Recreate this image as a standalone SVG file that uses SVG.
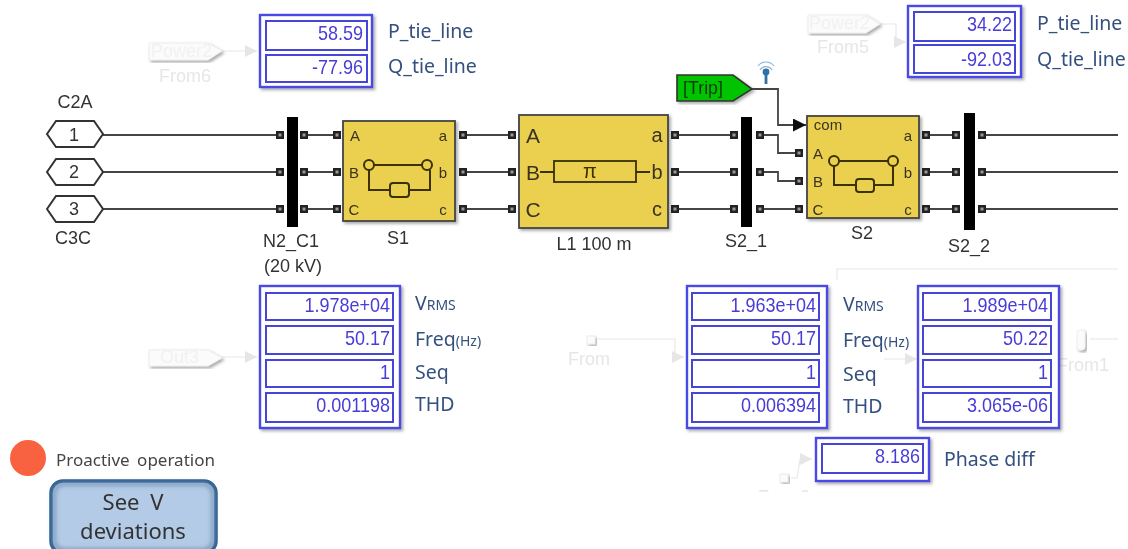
<svg xmlns="http://www.w3.org/2000/svg" width="1128" height="549" viewBox="0 0 1128 549">
<defs>
<filter id="soft" x="-2%" y="-2%" width="104%" height="104%"><feGaussianBlur stdDeviation="0.6"/></filter>
<filter id="sh" x="-10%" y="-10%" width="125%" height="125%"><feDropShadow dx="2" dy="2" stdDeviation="1.5" flood-color="#666" flood-opacity="0.55"/></filter>
<filter id="inner" x="-10%" y="-10%" width="120%" height="120%"><feGaussianBlur stdDeviation="2"/></filter>
<marker id="arr" viewBox="0 0 10 10" refX="10" refY="5" markerWidth="13" markerHeight="13" markerUnits="userSpaceOnUse" orient="auto"><path d="M0 0L10 5L0 10Z" fill="#111"/></marker>
<marker id="ghostarr" viewBox="0 0 10 10" refX="10" refY="5" markerWidth="12" markerHeight="12" markerUnits="userSpaceOnUse" orient="auto"><path d="M0 0L10 5L0 10Z" fill="#e6e6e6"/></marker>
<g id="port"><rect x="-4" y="-4" width="8" height="8" fill="#222"/><rect x="-1.5" y="-1.5" width="3" height="3" fill="#999"/></g>
</defs>
<style>
text{font-family:"Liberation Sans",Arial,sans-serif}
.wire{fill:none;stroke:#444;stroke-width:1.8}
.ghostline{fill:none;stroke:#e8e8e8;stroke-width:1.2}
.ghostblock{fill:#fbfbfb;stroke:#eee;stroke-width:1;filter:url(#sh)}
.ghost{fill:#e6e6e6;font-size:18px;text-anchor:middle}
.ghostin{fill:#f1f1f1;font-size:18px}
.name{fill:#333;font-size:18px;text-anchor:middle}
.yellow{fill:#ebd04f;stroke:#444;stroke-width:1.8;filter:url(#sh)}
.icon{fill:none;stroke:#3a3000;stroke-width:2}
.iconf{fill:#ebd04f;stroke:#3a3000;stroke-width:2}
.pl{fill:#3a3320;font-size:15px;text-anchor:middle}
.pll{fill:#3a3320;font-size:21px;text-anchor:middle}
.bus{fill:#000}
.disp{fill:#fff;stroke:#4a4ae6;stroke-width:2.4;filter:url(#sh)}
.cell{fill:#fff;stroke:#4444d8;stroke-width:2}
.val{fill:#4a3cd8;font-size:20px;text-anchor:end;transform-box:fill-box;transform-origin:100% 50%;transform:scaleX(.9)}
.lab{fill:#34507e;font-size:19.5px;font-family:"Noto Sans","Open Sans",sans-serif}
.sm{font-size:14px}
</style>
<g filter="url(#soft)">
<g id="connectors">
<path class="wire" d="M103 135H280M304 135H337M463 135H512M675 135H734M760 135H778V153H799M925 135H956M982 135H1118"/>
<path class="wire" d="M103 172H280M304 172H337M463 172H512M675 172H734M760 172H778V181H799M925 172H956M982 172H1118"/>
<path class="wire" d="M103 209H280M304 209H337M463 209H512M675 209H734M760 209H799M925 209H956M982 209H1118"/>
<path class="wire" d="M752 89H778V125H806" marker-end="url(#arr)"/>
<path class="ghostline" d="M222 51H257" marker-end="url(#ghostarr)"/>
<path class="ghostline" d="M880 24H896V42H906" marker-end="url(#ghostarr)"/>
<path class="ghostline" d="M222 357H257" marker-end="url(#ghostarr)"/>
<path class="ghostline" d="M597 339H675V357H684" marker-end="url(#ghostarr)"/>
<path class="ghostline" d="M884 359H917" marker-end="url(#ghostarr)"/>
<path class="ghostline" d="M1090 339H1118"/>
<path class="ghostline" d="M791 478H797L800 459H812" marker-end="url(#ghostarr)"/>
<path class="ghostline" d="M837 280V269H1118"/>
</g>
<g id="port1"><polygon points="47,134 56,121 94,121 103,134 94,147 56,147" fill="#fff" stroke="#333" stroke-width="2"/><text x="74" y="141" class="name">1</text><text x="75" y="108" class="name">C2A</text></g>
<g id="port2"><polygon points="47,172 56,159 94,159 103,172 94,185 56,185" fill="#fff" stroke="#333" stroke-width="2"/><text x="74" y="178" class="name">2</text></g>
<g id="port3"><polygon points="47,209 56,196 94,196 103,209 94,222 56,222" fill="#fff" stroke="#333" stroke-width="2"/><text x="74" y="215" class="name">3</text><text x="73" y="244" class="name">C3C</text></g>
<g id="bus-n2"><rect class="bus" x="287" y="117" width="11" height="110"/><use href="#port" x="280" y="135"/><use href="#port" x="280" y="172"/><use href="#port" x="280" y="209"/><use href="#port" x="304" y="135"/><use href="#port" x="304" y="172"/><use href="#port" x="304" y="209"/><text class="name" x="291" y="247">N2_C1</text><text class="name" x="293" y="272">(20 kV)</text></g>
<g id="s1"><rect class="yellow" x="343" y="121" width="112" height="100"/>
<use href="#port" x="337" y="135"/><use href="#port" x="337" y="172"/><use href="#port" x="337" y="209"/><use href="#port" x="463" y="135"/><use href="#port" x="463" y="172"/><use href="#port" x="463" y="209"/>
<path class="icon" d="M369 165H427M369 170V190H390M409 190H430V170"/><rect class="iconf" x="390" y="183" width="19" height="14" rx="3"/><circle class="iconf" cx="369" cy="165" r="5"/><circle class="iconf" cx="427" cy="165" r="5"/>
<text class="pl" x="355" y="141">A</text><text class="pl" x="354" y="178">B</text><text class="pl" x="354" y="215">C</text><text class="pl" x="443" y="141">a</text><text class="pl" x="443" y="178">b</text><text class="pl" x="443" y="215">c</text>
<text class="name" x="398" y="244">S1</text></g>
<g id="l1"><rect class="yellow" x="519" y="115" width="149" height="113"/>
<use href="#port" x="512" y="135"/><use href="#port" x="512" y="172"/><use href="#port" x="512" y="209"/><use href="#port" x="675" y="135"/><use href="#port" x="675" y="172"/><use href="#port" x="675" y="209"/>
<path class="icon" d="M540 172H554M636 172H650"/><rect x="554" y="161" width="82" height="21" fill="#ebd04f" stroke="#3a3000" stroke-width="1.8"/>
<text x="590" y="178" fill="#3a3000" font-size="20" text-anchor="middle">π</text>
<text class="pll" x="533" y="143">A</text><text class="pll" x="533" y="180">B</text><text class="pll" x="533" y="217">C</text><text class="pl" x="657" y="142" style="font-size:20px">a</text><text class="pl" x="657" y="179" style="font-size:20px">b</text><text class="pl" x="657" y="216" style="font-size:20px">c</text>
<text class="name" x="594" y="250">L1 100 m</text></g>
<g id="bus-s21"><rect class="bus" x="741" y="117" width="11" height="110"/><use href="#port" x="734" y="135"/><use href="#port" x="734" y="172"/><use href="#port" x="734" y="209"/><use href="#port" x="760" y="135"/><use href="#port" x="760" y="172"/><use href="#port" x="760" y="209"/><text class="name" x="746" y="247">S2_1</text></g>
<g id="trip"><polygon points="677,75 733,75 752,89 733,101 677,101" fill="#00c400" stroke="#333" stroke-width="1.6" filter="url(#sh)"/><text x="683" y="94" fill="#0b3a0b" font-size="18" textLength="40" lengthAdjust="spacingAndGlyphs">[Trip]</text></g>
<g id="antenna"><path d="M766 72V84" stroke="#2f6fa8" stroke-width="2.8"/><circle cx="766" cy="72" r="3.4" fill="#2f6fa8"/><path d="M760 70A7 7 0 0 1 772 70M758 66A10 10 0 0 1 774 66" fill="none" stroke="#86b4d8" stroke-width="1.2"/></g>
<g id="s2"><rect class="yellow" x="807" y="116" width="112" height="102"/>
<use href="#port" x="799" y="153"/><use href="#port" x="799" y="181"/><use href="#port" x="799" y="209"/><use href="#port" x="926" y="135"/><use href="#port" x="926" y="172"/><use href="#port" x="926" y="209"/>
<path class="icon" d="M834 161H893M834 166V185H856M873 185H893V166"/><rect class="iconf" x="856" y="179" width="18" height="13" rx="3"/><circle class="iconf" cx="834" cy="161" r="5"/><circle class="iconf" cx="893" cy="161" r="5"/>
<text class="pl" x="828" y="130">com</text><text class="pl" x="818" y="159">A</text><text class="pl" x="818" y="187">B</text><text class="pl" x="818" y="215">C</text><text class="pl" x="908" y="141">a</text><text class="pl" x="908" y="178">b</text><text class="pl" x="908" y="215">c</text>
<text class="name" x="862" y="239">S2</text></g>
<g id="bus-s22"><rect class="bus" x="964" y="113" width="11" height="117"/><use href="#port" x="956" y="135"/><use href="#port" x="956" y="172"/><use href="#port" x="956" y="209"/><use href="#port" x="982" y="135"/><use href="#port" x="982" y="172"/><use href="#port" x="982" y="209"/><text class="name" x="969" y="252">S2_2</text></g>
<g id="ghost-power-left"><polygon class="ghostblock" points="149,43 208,43 222,51 208,60 149,60"/><text class="ghostin" x="151" y="57">Power2</text><text class="ghost" x="185" y="82">From6</text></g>
<g id="ghost-power-right"><polygon class="ghostblock" points="808,15 866,15 880,24 866,33 808,33"/><text class="ghostin" x="809" y="29">Power2</text><text class="ghost" x="843" y="53">From5</text></g>
<g id="ghost-out3"><polygon class="ghostblock" points="149,350 208,350 222,358 208,366 149,366"/><text class="ghostin" x="160" y="363">Out3</text></g>
<g id="ghost-from"><rect class="ghostblock" x="587" y="336" width="8" height="8"/><text class="ghost" x="589" y="365">From</text></g>
<g id="ghost-from1"><rect class="ghostblock" x="1077" y="330" width="8" height="20" rx="3"/><text class="ghost" x="1083" y="371">From1</text></g>
<g id="ghost-from2"><rect class="ghostblock" x="780" y="474" width="8" height="8"/><text class="ghost" x="784" y="503">From2</text><rect x="740" y="492" width="90" height="20" fill="#fff"/></g>
<g id="disp-tie-left"><rect class="disp" x="260" y="15" width="112" height="72"/><rect class="cell" x="266" y="21" width="101" height="29"/><rect class="cell" x="266" y="55" width="101" height="27"/><text class="val" x="363" y="40">58.59</text><text class="val" x="363" y="74">-77.96</text><text class="lab" x="388" y="38">P_tie_line</text><text class="lab" x="388" y="73">Q_tie_line</text></g>
<g id="disp-tie-right"><rect class="disp" x="908" y="6" width="113" height="71"/><rect class="cell" x="914" y="12" width="101" height="29"/><rect class="cell" x="914" y="45" width="101" height="28"/><text class="val" x="1012" y="31">34.22</text><text class="val" x="1012" y="66">-92.03</text><text class="lab" x="1037" y="30">P_tie_line</text><text class="lab" x="1037" y="66">Q_tie_line</text></g>
<g id="disp-n2"><rect class="disp" x="260" y="286" width="140" height="142"/><rect class="cell" x="266" y="293" width="127" height="27"/><rect class="cell" x="266" y="326" width="127" height="28"/><rect class="cell" x="266" y="360" width="127" height="27"/><rect class="cell" x="266" y="393" width="127" height="29"/><text class="val" x="390" y="312">1.978e+04</text><text class="val" x="390" y="345">50.17</text><text class="val" x="390" y="379">1</text><text class="val" x="390" y="412">0.001198</text>
<text class="lab" x="415" y="310">V<tspan class="sm">RMS</tspan></text><text class="lab" x="415" y="346">Freq<tspan class="sm">(Hz)</tspan></text><text class="lab" x="415" y="379">Seq</text><text class="lab" x="415" y="411">THD</text></g>
<g id="disp-s21"><rect class="disp" x="687" y="286" width="140" height="142"/><rect class="cell" x="692" y="293" width="127" height="27"/><rect class="cell" x="692" y="326" width="127" height="28"/><rect class="cell" x="692" y="360" width="127" height="27"/><rect class="cell" x="692" y="393" width="127" height="29"/><text class="val" x="816" y="312">1.963e+04</text><text class="val" x="816" y="345">50.17</text><text class="val" x="816" y="379">1</text><text class="val" x="816" y="412">0.006394</text>
<text class="lab" x="843" y="311">V<tspan class="sm">RMS</tspan></text><text class="lab" x="843" y="347">Freq<tspan class="sm">(Hz)</tspan></text><text class="lab" x="843" y="381">Seq</text><text class="lab" x="843" y="413">THD</text></g>
<g id="disp-s22"><rect class="disp" x="918" y="286" width="141" height="142"/><rect class="cell" x="923" y="293" width="128" height="27"/><rect class="cell" x="923" y="326" width="128" height="28"/><rect class="cell" x="923" y="360" width="128" height="27"/><rect class="cell" x="923" y="393" width="128" height="29"/><text class="val" x="1048" y="312">1.989e+04</text><text class="val" x="1048" y="345">50.22</text><text class="val" x="1048" y="379">1</text><text class="val" x="1048" y="412">3.065e-06</text></g>
<g id="disp-phase"><rect class="disp" x="816" y="438" width="113" height="43"/><rect class="cell" x="822" y="444" width="101" height="29"/><text class="val" x="920" y="463">8.186</text><text class="lab" x="944" y="466">Phase diff</text></g>
<g id="proactive"><circle cx="28" cy="458" r="18" fill="#f8623f"/><text x="56" y="466" fill="#444" font-size="17" word-spacing="3" style="font-family:'Noto Sans','Open Sans',sans-serif">Proactive operation</text></g>
<g id="button"><rect x="51" y="481" width="165" height="72" rx="12" fill="#b3cbe6" stroke="#2e5f90" stroke-width="3.5"/><rect x="54" y="484" width="159" height="66" rx="10" fill="none" stroke="#6f8fb3" stroke-width="3" filter="url(#inner)"/><text x="133" y="510" fill="#333" font-size="22" text-anchor="middle" word-spacing="5" style="font-family:'Noto Sans','Open Sans',sans-serif">See V</text><text x="133" y="539" fill="#333" font-size="22" text-anchor="middle" style="font-family:'Noto Sans','Open Sans',sans-serif">deviations</text></g>
</g>
</svg>
